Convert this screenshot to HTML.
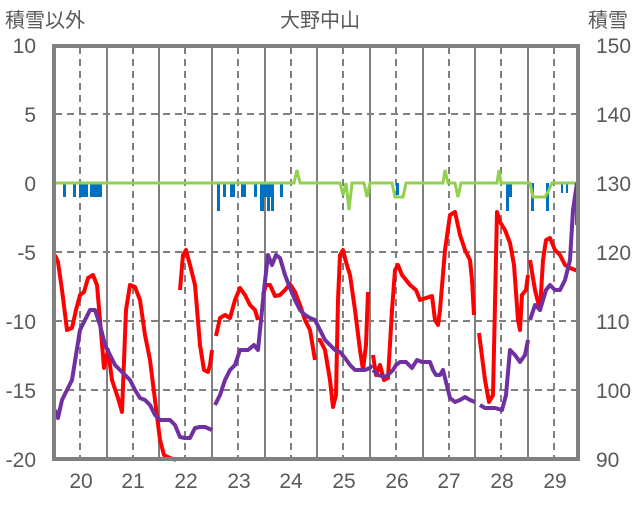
<!DOCTYPE html>
<html><head><meta charset="utf-8"><style>
body{margin:0;background:#fff;}
svg text{font-family:"Liberation Sans","Noto Sans CJK JP",sans-serif;fill:#595959;}
</style></head><body>
<svg width="636" height="501" xmlns="http://www.w3.org/2000/svg">
<rect width="636" height="501" fill="#fff"/>
<g stroke="#808080" stroke-width="2" stroke-dasharray="7,5">
<line x1="55" y1="114" x2="578" y2="114"/>
<line x1="55" y1="252" x2="578" y2="252"/>
<line x1="55" y1="321" x2="578" y2="321"/>
<line x1="55" y1="390" x2="578" y2="390"/>
</g>
<g stroke="#808080" stroke-width="2" stroke-dasharray="7,5">
<line x1="80" y1="47" x2="80" y2="459"/><line x1="133" y1="47" x2="133" y2="459"/>
<line x1="185" y1="47" x2="185" y2="459"/><line x1="238" y1="47" x2="238" y2="459"/>
<line x1="291" y1="47" x2="291" y2="459"/><line x1="343" y1="47" x2="343" y2="459"/>
<line x1="396" y1="47" x2="396" y2="459"/><line x1="449" y1="47" x2="449" y2="459"/>
<line x1="501" y1="47" x2="501" y2="459"/><line x1="554" y1="47" x2="554" y2="459"/>
</g>
<g stroke="#808080" stroke-width="2">
<line x1="107" y1="47" x2="107" y2="459"/><line x1="159" y1="47" x2="159" y2="459"/>
<line x1="212" y1="47" x2="212" y2="459"/><line x1="265" y1="47" x2="265" y2="459"/>
<line x1="317" y1="47" x2="317" y2="459"/><line x1="370" y1="47" x2="370" y2="459"/>
<line x1="423" y1="47" x2="423" y2="459"/><line x1="475" y1="47" x2="475" y2="459"/>
<line x1="528" y1="47" x2="528" y2="459"/>
</g>
<g fill="#0070c0">
<rect x="63" y="183" width="3" height="14"/><rect x="73" y="183" width="3" height="14"/>
<rect x="79" y="183" width="9" height="14"/><rect x="90" y="183" width="12" height="14"/>
<rect x="217" y="183" width="3" height="28"/><rect x="223" y="183" width="3" height="14"/>
<rect x="230" y="183" width="5" height="14"/><rect x="241" y="183" width="5" height="14"/>
<rect x="254" y="183" width="3" height="14"/><rect x="260" y="183" width="13" height="14"/>
<rect x="260" y="183" width="4" height="28"/><rect x="267" y="183" width="3" height="28"/>
<rect x="271" y="183" width="3" height="28"/><rect x="280" y="183" width="3" height="14"/>
<rect x="396" y="183" width="3" height="12"/>
<rect x="506" y="183" width="3" height="28"/><rect x="509" y="183" width="3" height="14"/>
<rect x="531" y="183" width="3" height="28"/><rect x="546" y="183" width="3" height="28"/>
<rect x="561" y="183" width="2" height="10"/><rect x="566" y="183" width="2" height="10"/>
<rect x="575" y="183" width="3" height="42"/>
</g>
<polyline fill="none" stroke="#92d050" stroke-width="3" points="55,183 294,183 297,170 300,183 340,183 343,195 346,183 349,210 352,183 364,183 367,197 370,183 392,183 395,197 403,197 406,183 443,183 445,170 448,183 455,183 458,197 461,183 497,183 499,170 501,183 530,183 533,197 545,197 549,190 552,183 578,183"/>
<g fill="none" stroke="#ff0000" stroke-width="4" stroke-linejoin="round">
<polyline points="55,255 58,262 62,290 67,330 72,328 76,310 80,295 84,292 88,278 93,275 97,285 100,320 104,368 108,350 112,380 118,398 122,412 126,310 130,285 135,287 140,300 145,335 150,360 155,400 160,440 164,455 170,458 176,460"/>
<polyline points="180,290 183,255 186,250 190,265 195,285 200,345 204,370 208,372 210,365 212,350"/>
<polyline points="216,336 220,318 225,315 230,318 235,300 240,288 245,295 250,305 255,310 258,320"/>
<polyline points="263,295 266,285 270,285 275,296 280,295 285,290 290,284 295,292 300,305 305,320 310,330 315,360"/>
<polyline points="318,340 320,340 325,350 330,380 333,407 336,395 338,300 340,255 343,250 346,262 350,275 355,310 360,350 363,370 366,345 368,292"/>
<polyline points="373,355 376,375 380,365 384,380 388,378 392,310 395,270 398,265 402,275 406,280 410,285 416,290 420,300 426,298 432,296 435,320 438,325 440,310 445,250 450,215 455,212 460,235 465,250 470,260 472,280 474,315"/>
<polyline points="479,333 485,380 489,402 493,395 497,212 500,222 505,230 510,243 514,265 518,320 520,330 522,295 526,290 528,275"/>
<polyline points="530,260 535,290 540,310 543,260 546,240 550,238 555,250 560,255 565,265 570,268 578,271"/>
</g>
<g fill="none" stroke="#7030a0" stroke-width="4" stroke-linejoin="round">
<polyline points="55,410 58,418 62,400 67,390 72,380 76,355 80,330 85,320 90,310 95,310 100,325 105,345 110,355 115,365 120,370 125,375 130,380 135,390 140,398 145,400 150,405 155,415 160,420 165,420 170,420 175,425 180,437 185,438 190,438 195,428 200,427 205,427 212,430"/>
<polyline points="215,405 220,395 225,380 230,370 235,365 240,350 248,350 254,345 258,350 261,320 264,290 268,255 272,265 276,255 280,258 285,275 290,288 295,300 300,310 305,315 310,318 315,320 320,330 325,340 330,345 335,350 340,352 345,358 350,365 355,370 360,370 365,370 370,368 372,365"/>
<polyline points="373,370 378,375 385,377 390,373 393,370 396,365 400,362 406,362 412,368 417,360 422,362 430,362 433,370 436,375 440,375 443,370 446,382 450,398 455,402 460,400 465,397 470,400 475,402"/>
<polyline points="480,405 485,408 495,408 502,410 506,395 510,350 515,355 520,362 525,355 528,340"/>
<polyline points="530,320 535,305 540,310 543,300 546,290 550,285 555,290 560,290 565,280 570,260 573,210 577,183"/>
</g>
<rect x="54" y="46" width="524" height="413" fill="none" stroke="#808080" stroke-width="4"/>
<g font-size="21">
<text x="5" y="27" font-size="20">積雪以外</text>
<text x="320" y="27" text-anchor="middle" font-size="20">大野中山</text>
<text x="588" y="27" font-size="20">積雪</text>
<g text-anchor="end">
<text x="36" y="53">10</text><text x="36" y="122">5</text><text x="36" y="191">0</text>
<text x="36" y="260">-5</text><text x="36" y="329">-10</text><text x="36" y="398">-15</text><text x="36" y="467">-20</text>
</g>
<g>
<text x="596" y="53">150</text><text x="596" y="122">140</text><text x="596" y="191">130</text>
<text x="596" y="260">120</text><text x="596" y="329">110</text><text x="596" y="398">100</text><text x="596" y="467">90</text>
</g>
<g text-anchor="middle">
<text x="81" y="488">20</text><text x="133" y="488">21</text><text x="186" y="488">22</text><text x="239" y="488">23</text><text x="291" y="488">24</text>
<text x="344" y="488">25</text><text x="397" y="488">26</text><text x="449" y="488">27</text><text x="502" y="488">28</text><text x="555" y="488">29</text>
</g>
</g>
</svg>
</body></html>
